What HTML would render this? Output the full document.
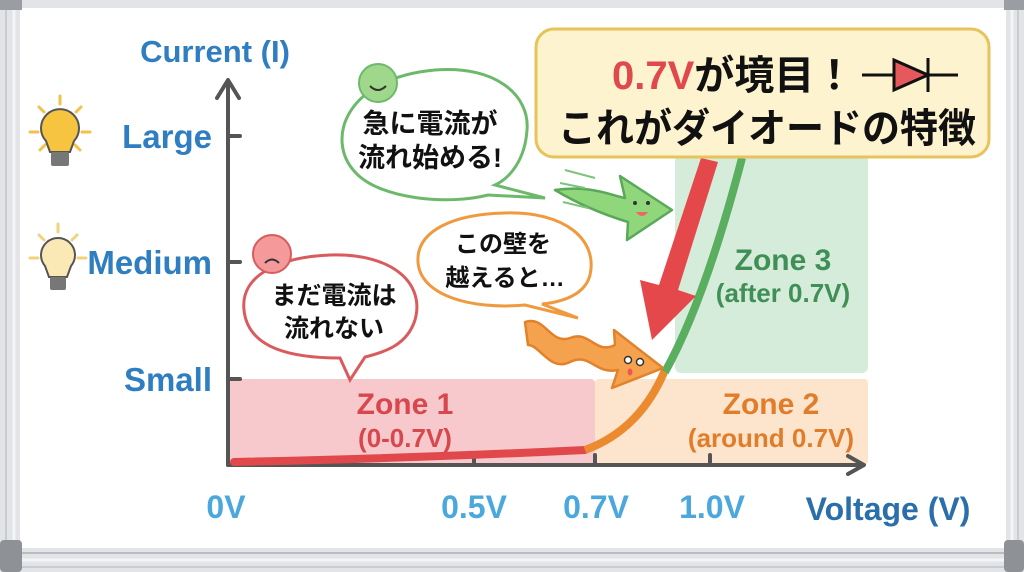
<!DOCTYPE html>
<html><head><meta charset="utf-8"><style>
html,body{margin:0;padding:0;background:#fff;}
svg{display:block;}
text{font-family:"Liberation Sans","Noto Sans CJK JP",sans-serif;font-weight:bold;}
</style></head><body>
<svg width="1024" height="572" viewBox="0 0 1024 572" xmlns="http://www.w3.org/2000/svg">
<!-- frame -->
<rect x="0" y="0" width="1024" height="572" fill="#e2e4e7"/>
<rect x="20" y="8" width="986" height="540" fill="#ffffff"/>
<line x1="6" y1="10" x2="6" y2="545" stroke="#c9ccd0" stroke-width="2"/>
<line x1="14" y1="10" x2="14" y2="545" stroke="#f4f5f6" stroke-width="3"/>
<line x1="1012" y1="10" x2="1012" y2="545" stroke="#f4f5f6" stroke-width="3"/>
<line x1="1018" y1="10" x2="1018" y2="545" stroke="#c9ccd0" stroke-width="2"/>
<line x1="20" y1="553" x2="1006" y2="553" stroke="#b9bcc0" stroke-width="2"/>
<line x1="20" y1="560" x2="1006" y2="560" stroke="#f4f5f6" stroke-width="3"/>
<line x1="20" y1="567" x2="1006" y2="567" stroke="#c9ccd0" stroke-width="2"/>
<rect x="0" y="0" width="22" height="10" fill="#9a9da1"/>
<rect x="1004" y="0" width="20" height="10" fill="#9a9da1"/>
<rect x="0" y="540" width="22" height="32" rx="4" fill="#8e9195"/>
<rect x="1004" y="540" width="20" height="32" rx="4" fill="#8e9195"/>

<!-- zones -->
<rect x="228" y="379" width="367" height="86" rx="4" fill="#f7c9cc"/>
<rect x="595" y="379" width="273" height="86" rx="4" fill="#fde4cd"/>
<rect x="675" y="155" width="193" height="218" rx="6" fill="#d4ecd9"/>
<text x="405" y="414" font-size="30" fill="#d6484e" text-anchor="middle">Zone 1</text>
<text x="405" y="447" font-size="26" fill="#d6484e" text-anchor="middle">(0-0.7V)</text>
<text x="771" y="414" font-size="30" fill="#e07d2a" text-anchor="middle">Zone 2</text>
<text x="771" y="447" font-size="26" fill="#e07d2a" text-anchor="middle">(around 0.7V)</text>
<text x="783" y="270" font-size="30" fill="#3f8f57" text-anchor="middle">Zone 3</text>
<text x="783" y="302" font-size="26" fill="#3f8f57" text-anchor="middle">(after 0.7V)</text>

<!-- axes -->
<g stroke="#555" stroke-width="4" fill="none" stroke-linecap="round" stroke-linejoin="round">
<line x1="228" y1="82" x2="228" y2="465"/>
<polyline points="217,98 228,80 239,98"/>
<line x1="228" y1="465" x2="862" y2="465"/>
<polyline points="848,456 864,465 848,474"/>
<line x1="228" y1="136" x2="240" y2="136"/>
<line x1="228" y1="262" x2="240" y2="262"/>
<line x1="228" y1="379" x2="240" y2="379"/>
<line x1="474" y1="455" x2="474" y2="465"/>
<line x1="595" y1="455" x2="595" y2="465"/>
<line x1="710" y1="455" x2="710" y2="465"/>
</g>
<text x="215" y="62" font-size="31" fill="#2f7ec1" text-anchor="middle">Current (I)</text>
<text x="212" y="148" font-size="33" fill="#2f7ec1" text-anchor="end">Large</text>
<text x="212" y="274" font-size="33" fill="#2f7ec1" text-anchor="end">Medium</text>
<text x="212" y="391" font-size="33" fill="#2f7ec1" text-anchor="end">Small</text>
<text x="226" y="518" font-size="32" fill="#4aa8dd" text-anchor="middle">0V</text>
<text x="474" y="518" font-size="32" fill="#4aa8dd" text-anchor="middle">0.5V</text>
<text x="596" y="518" font-size="32" fill="#4aa8dd" text-anchor="middle">0.7V</text>
<text x="712" y="518" font-size="32" fill="#4aa8dd" text-anchor="middle">1.0V</text>
<text x="888" y="520" font-size="32" fill="#2a6eaa" text-anchor="middle">Voltage (V)</text>

<!-- bulbs -->
<g transform="translate(60,132)">
<g stroke="#f2c24a" stroke-width="3" stroke-linecap="round">
<line x1="-30" y1="0" x2="-22" y2="0"/><line x1="22" y1="0" x2="30" y2="0"/>
<line x1="0" y1="-36" x2="0" y2="-28"/><line x1="-21" y1="-25" x2="-16" y2="-20"/><line x1="21" y1="-25" x2="16" y2="-20"/>
<line x1="-20" y1="18" x2="-15" y2="13"/><line x1="20" y1="18" x2="15" y2="13"/></g>
<path d="M-14,9 A19,19 0 1 1 14,9 L10,20 L-10,20 Z" fill="#f7c43f" stroke="#555" stroke-width="2"/>
<rect x="-9" y="20" width="18" height="14" rx="2" fill="#777"/>
</g>
<g transform="translate(58,258)">
<g stroke="#f2d27a" stroke-width="3" stroke-linecap="round">
<line x1="-28" y1="0" x2="-20" y2="0"/><line x1="20" y1="0" x2="28" y2="0"/>
<line x1="0" y1="-34" x2="0" y2="-26"/><line x1="-19" y1="-23" x2="-14" y2="-18"/><line x1="19" y1="-23" x2="14" y2="-18"/></g>
<path d="M-13,8 A17,17 0 1 1 13,8 L9,19 L-9,19 Z" fill="#fbe9b5" stroke="#555" stroke-width="2"/>
<rect x="-8" y="19" width="16" height="13" rx="2" fill="#777"/>
</g>

<!-- curve -->
<path d="M234,462 Q420,458 585,450" stroke="#e0484c" stroke-width="8" fill="none" stroke-linecap="round"/>
<path d="M585,450 Q640,430 665,370" stroke="#eb8a2e" stroke-width="8" fill="none"/>
<path d="M665,372 Q705,300 742,158" stroke="#5aae5f" stroke-width="8" fill="none"/>

<!-- red arrow -->
<polygon points="701,158 718,162 678,290 696,296 652,340 640,280 659,285" fill="#e5484b"/>

<!-- title box -->
<rect x="536" y="29" width="453" height="128" rx="18" fill="#fdf3cf" stroke="#e8c25a" stroke-width="3"/>
<text x="612" y="89" font-size="40" fill="#e0484c">0.7V<tspan fill="#111">が境目！</tspan></text>
<g stroke="#111" stroke-width="3"><line x1="862" y1="75" x2="958" y2="75"/><line x1="928" y1="58" x2="928" y2="92"/></g>
<polygon points="894,60 928,75 894,90" fill="#e5585b" stroke="#111" stroke-width="3"/>
<text x="558" y="142" font-size="40" fill="#111" textLength="418" lengthAdjust="spacingAndGlyphs">これがダイオードの特徴</text>

<!-- green bubble -->
<path d="M435,70 C495,65 530,95 527,130 C525,160 510,178 495,185 L545,198 L488,195 C450,205 380,200 355,172 C325,140 345,78 435,70 Z" fill="#fff" stroke="#6cb96c" stroke-width="3"/>
<circle cx="378" cy="83" r="19" fill="#9fd88a" stroke="#6cb96c" stroke-width="2"/>
<path d="M370,86 Q378,94 386,86" stroke="#333" stroke-width="2" fill="none"/>
<text x="430" y="133" font-size="27" fill="#111" text-anchor="middle">急に電流が</text>
<text x="430" y="167" font-size="27" fill="#111" text-anchor="middle">流れ始める!</text>

<!-- red bubble -->
<path d="M330,255 C395,253 425,285 415,320 C407,345 385,352 365,357 L350,380 L340,358 C295,358 248,350 244,310 C240,275 280,257 330,255 Z" fill="#fff" stroke="#d95b5e" stroke-width="3"/>
<circle cx="272" cy="254" r="19" fill="#f49a9b" stroke="#d95b5e" stroke-width="2"/>
<path d="M265,263 Q272,256 279,263" stroke="#333" stroke-width="2" fill="none"/>
<text x="334" y="304" font-size="25" fill="#111" text-anchor="middle">まだ電流は</text>
<text x="334" y="337" font-size="25" fill="#111" text-anchor="middle">流れない</text>

<!-- orange bubble -->
<path d="M505,213 C565,211 598,240 590,275 C585,295 562,302 542,304 L578,318 L525,305 C470,310 420,295 418,262 C416,230 455,214 505,213 Z" fill="#fff" stroke="#ef9a3e" stroke-width="3"/>
<text x="503" y="252" font-size="24" fill="#111" text-anchor="middle">この壁を</text>
<text x="505" y="286" font-size="24" fill="#111" text-anchor="middle">越えると…</text>

<!-- green arrow -->
<path d="M555,190 C590,185 610,195 625,198 L620,176 L672,210 L627,240 L628,222 C605,215 580,205 555,190 Z" fill="#8fd77a" stroke="#5aa85a" stroke-width="2.5" stroke-linejoin="round"/>
<g stroke="#7cc47c" stroke-width="2"><line x1="565" y1="170" x2="595" y2="178"/><line x1="560" y1="183" x2="585" y2="188"/><line x1="563" y1="202" x2="588" y2="208"/></g>
<circle cx="635" cy="203" r="2" fill="#333"/><circle cx="648" cy="203" r="2" fill="#333"/>
<path d="M636,212 Q642,220 648,212 Z" fill="#e66"/>

<!-- orange squiggle arrow -->
<path d="M525,322 C545,315 550,345 570,338 C590,330 595,355 615,345 L614,330 L663,368 L612,388 L618,370 C595,375 590,352 570,362 C550,372 540,345 528,345 Z" fill="#f4a24e" stroke="#e2822a" stroke-width="2.5" stroke-linejoin="round"/>
<circle cx="628" cy="360" r="3.5" fill="#fff" stroke="#333" stroke-width="1.5"/><circle cx="640" cy="362" r="3.5" fill="#fff" stroke="#333" stroke-width="1.5"/>
<ellipse cx="630" cy="372" rx="2.5" ry="3.5" fill="#e55"/>
</svg>
</body></html>
